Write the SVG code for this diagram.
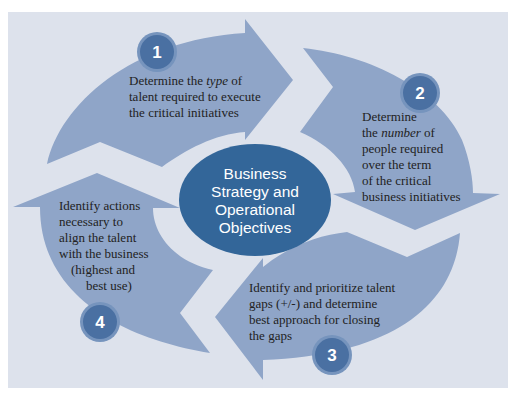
<svg xmlns="http://www.w3.org/2000/svg" width="517" height="401" viewBox="0 0 517 401">
<style>
.arrow{fill:#8fa5c8}
.halo{fill:#7694bd}
.disc{fill:#4a70a2}
.num{font-family:"Liberation Sans",Arial,sans-serif;font-weight:bold;font-size:17px;fill:#fff;text-anchor:middle}
.t{font-family:"Liberation Serif","Times New Roman",serif;font-size:13px;fill:#222}
.c{font-family:"Liberation Sans",Arial,sans-serif;font-size:15.5px;fill:#fff;text-anchor:middle}
</style>
<rect x="0" y="0" width="517" height="401" fill="#fff"/>
<rect x="8" y="12" width="500" height="376" fill="#dde2ec"/>
<g id="connectors">
<path id="arrow1" class="arrow" d="M47,164 C60,105 130,40 245,33 L245,19 L293,80 L245,140 L245,132 C215,134 185,150 162,167 L100,142 Z"/>
<path id="arrow2" class="arrow" d="M303,48 C370,55 440,90 462,140 C470,160 473,180 473,193 L500,194 L415,230 L333,194 L355,192 C352,168 330,145 300,132 L333,87 Z"/>
<path id="arrow3" class="arrow" d="M460,233 C455,300 400,355 263,360 L263,380 L215,317 L263,258 L263,267 C290,245 320,235 347,232 L407,257 Z"/>
<path id="arrow4" class="arrow" d="M210,353 C130,340 40,300 40,207 L13,207 L97,173 L180,208 L153,208 C153,235 175,262 213,270 L180,313 Z"/>
</g>
<g id="center">
<ellipse cx="255" cy="200" rx="76" ry="56" fill="#336699"/>
<text class="c" x="255" y="179">Business</text>
<text class="c" x="255" y="197">Strategy and</text>
<text class="c" x="255" y="215">Operational</text>
<text class="c" x="255" y="233">Objectives</text>
</g>
<g id="step1">
<circle class="halo" cx="157" cy="52" r="20"/>
<circle class="disc" cx="157" cy="52" r="17"/>
<text class="num" x="157" y="58">1</text>
<text class="t" x="129" y="85">Determine the <tspan font-style="italic">type</tspan> of</text>
<text class="t" x="129" y="101">talent required to execute</text>
<text class="t" x="129" y="117">the critical initiatives</text>
</g>
<g id="step2">
<circle class="halo" cx="420" cy="93" r="20"/>
<circle class="disc" cx="420" cy="93" r="17"/>
<text class="num" x="420" y="99">2</text>
<text class="t" x="362" y="121">Determine</text>
<text class="t" x="362" y="137">the <tspan font-style="italic">number</tspan> of</text>
<text class="t" x="362" y="153">people required</text>
<text class="t" x="362" y="169">over the term</text>
<text class="t" x="362" y="185">of the critical</text>
<text class="t" x="362" y="201">business initiatives</text>
</g>
<g id="step3">
<circle class="halo" cx="332" cy="355" r="20"/>
<circle class="disc" cx="332" cy="355" r="17"/>
<text class="num" x="332" y="361">3</text>
<text class="t" x="249" y="292">Identify and prioritize talent</text>
<text class="t" x="249" y="308">gaps (+/-) and determine</text>
<text class="t" x="249" y="324">best approach for closing</text>
<text class="t" x="249" y="340">the gaps</text>
</g>
<g id="step4">
<circle class="halo" cx="100" cy="322" r="20"/>
<circle class="disc" cx="100" cy="322" r="17"/>
<text class="num" x="100" y="328">4</text>
<text class="t" x="59" y="210">Identify actions</text>
<text class="t" x="59" y="226">necessary to</text>
<text class="t" x="59" y="242">align the talent</text>
<text class="t" x="59" y="258">with the business</text>
<text class="t" x="71" y="274">(highest and</text>
<text class="t" x="86" y="290">best use)</text>
</g>
</svg>
